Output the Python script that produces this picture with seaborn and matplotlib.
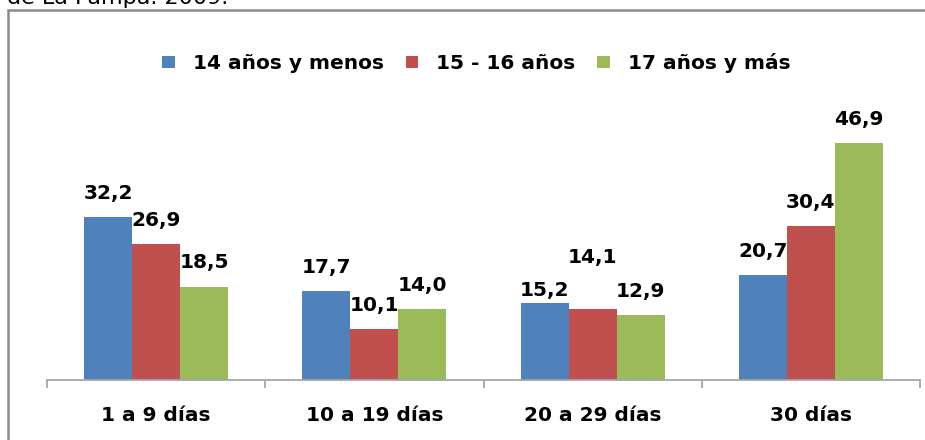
import numpy as np
import pandas as pd
import seaborn as sns
import matplotlib.pyplot as plt
from matplotlib.patches import Rectangle, Patch

# data
categories = ["1 a 9 días", "10 a 19 días", "20 a 29 días", "30 días"]
groups = ["14 años y menos", "15 - 16 años", "17 años y más"]
menos_14 = [32.2, 17.7, 15.2, 20.7]
de_15_16 = [26.9, 10.1, 14.1, 30.4]
mas_17 = [18.5, 14.0, 12.9, 46.9]
colors = ["#4F81BD", "#C0504D", "#9BBB59"]

# a couple of labels sit off their usual place in the original
label_nudge = {("20 a 29 días", "15 - 16 años"): 37, ("20 a 29 días", "14 años y menos"): 9}

df = pd.DataFrame({
    "categoria": categories * 3,
    "grupo": [g for g in groups for _ in categories],
    "valor": menos_14 + de_15_16 + mas_17,
})

sns.set_style("white")
plt.rcParams["font.family"] = ["DejaVu Sans"]
plt.rcParams["text.color"] = "black"

W, H = 925, 440
fig = plt.figure(figsize=(W / 100, H / 100), dpi=100)
ax = fig.add_axes([47 / W, 1 - 380 / H, (920 - 47) / W, 280 / H])

sns.barplot(data=df, x="categoria", y="valor", hue="grupo", hue_order=groups,
            order=categories, palette=colors, width=0.66, gap=0, saturation=1,
            edgecolor="none", legend=False, ax=ax)

ax.set_xlim(-0.5, len(categories) - 0.5)
ax.set_ylim(0, 280 / 5.05)
ax.set_xlabel("")
ax.set_ylabel("")
ax.set_yticks([])

for s in ["top", "right", "left"]:
    ax.spines[s].set_visible(False)
ax.spines["bottom"].set_color("#A6A6A6")
ax.spines["bottom"].set_linewidth(1.3)

ax.set_xticks(range(len(categories)))
ax.set_xticklabels(categories, fontsize=14.5, fontweight="bold", color="black")
ax.tick_params(axis="x", which="major", length=0, pad=19)
ax.set_xticks(np.arange(-0.5, len(categories)), minor=True)
ax.tick_params(axis="x", which="minor", bottom=True, length=6, width=1.3,
               color="#A6A6A6", direction="out")

for g, cont in zip(groups, ax.containers):
    for cat, bar in zip(categories, cont):
        v = bar.get_height()
        dy = label_nudge.get((cat, g), 17)
        ax.annotate(f"{v:.1f}".replace(".", ","),
                    (bar.get_x() + bar.get_width() / 2, v),
                    xytext=(0, dy), textcoords="offset points",
                    ha="center", va="center", fontsize=14.5, fontweight="bold",
                    color="black")

handles = [Patch(facecolor=c, edgecolor="none") for c in colors]
fig.legend(handles, groups, loc="center", bbox_to_anchor=(0.515, 1 - 63 / H),
           ncol=3, frameon=False, prop={"size": 14.5, "weight": "bold"},
           labelcolor="black",
           handlelength=0.6, handleheight=0.6, handletextpad=0.9, columnspacing=1.1)

# chart frame (cut off at right and bottom in the original)
fig.patches.append(Rectangle((8 / W, -0.1), 1.2, 1.1 - 10 / H, transform=fig.transFigure,
                             fill=False, edgecolor="#8C8C8C", linewidth=1.8))

# caption line above the chart, mostly cut off
fig.text(7 / W, 1 - 4 / H, "de La Pampa. 2009.", fontsize=16, va="baseline", ha="left",
         color="black")

fig.savefig("out.png", dpi=100)
